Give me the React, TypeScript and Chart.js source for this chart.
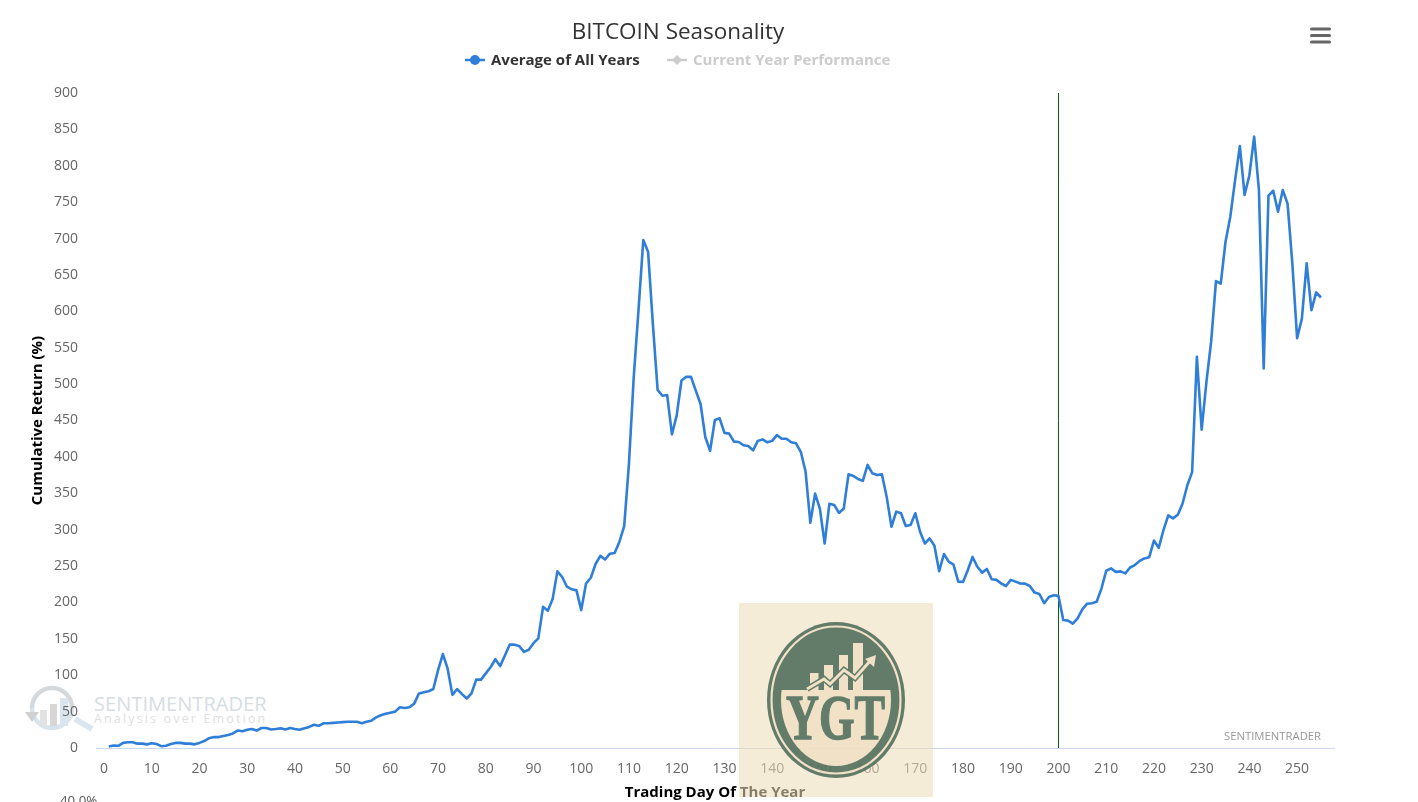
import { useEffect, useRef } from "react";
import { Chart, registerables } from "chart.js";

Chart.register(...registerables);

// cumulative return, trading day 1 to 255
const avgReturn = [
  2, 3.5, 3, 7, 8, 8, 6, 6, 5, 6.5,
  5.5, 2.5, 3, 5.5, 7, 7, 6, 6, 5, 7,
  9.5, 13.5, 15, 15, 16.5, 18, 20, 24, 23, 25,
  26, 24, 27.5, 27.5, 25.5, 26, 27, 25.5, 27.5, 26,
  25, 27, 29, 32, 30.5, 34, 34, 34.5, 35, 35.5,
  36, 36, 36, 34, 36, 37.5, 42, 45, 47, 48.5,
  50, 56, 55, 56, 61, 75, 76.5, 78, 81, 107,
  129, 109, 73, 81, 74, 68, 75, 94, 94, 102.5,
  111, 122, 112.5, 127, 142, 142, 140, 132, 135, 144,
  150.6, 194, 188.6, 204.6, 242.7, 235, 221.6, 218, 216.6, 189.5,
  226, 234, 252.8, 264, 259, 267, 267.9, 283.5, 305, 391,
  510, 602, 698, 682, 583, 492, 484, 485, 431, 457,
  505, 510, 510, 491, 472.6, 427, 408.5, 450.6, 453, 433,
  432, 421, 420.4, 416, 415, 409, 422, 424, 420, 422,
  430, 425, 425, 420, 418.6, 407, 380, 309.6, 349.5, 329,
  281, 335.7, 334, 323, 329, 376, 373.8, 369.6, 367, 389,
  377.4, 375, 376, 345, 304, 324.8, 322.5, 305, 306.4, 322.5,
  297, 281, 288, 278, 243, 266.6, 256, 252, 228.6, 228,
  244.6, 262.5, 249, 241, 246, 231.8, 231, 226, 222.6, 231,
  228.6, 226, 225.8, 222.6, 213.5, 211.6, 199, 207.5, 209.8, 209,
  176, 175, 171, 178, 190.6, 198.3, 199, 201, 219, 243.6,
  246.8, 242, 242.7, 240, 248, 251.4, 257, 260.5, 262, 285,
  275, 299.5, 319.6, 315.5, 320.6, 336, 361, 379, 537.6, 437.5,
  503, 559, 641.6, 638, 695.6, 730, 780, 827, 759.8, 787,
  840, 766.6, 521.6, 758.9, 765.7, 737, 766.6, 748, 666, 563,
  590, 666, 601.7, 626, 619,
];
const todayDay = 200;
const todayRange = [0, 900];

const chartTitle = "BITCOIN Seasonality";
const seriesNames = ["Average of All Years", "Current Year Performance"];
const xTitle = "Trading Day Of The Year";
const yTitle = "Cumulative Return (%)";

const BLUE = "#2f7ed8";
const FONT = "'Open Sans', sans-serif";
const GREEN = "#4d6c5a";
const CREAM = "#efdfc4";

const abs = (left: number, top: number): React.CSSProperties => ({
  position: "absolute",
  left,
  top,
  whiteSpace: "nowrap",
});

const SeasonalityChart = () => {
  const canvasRef = useRef<HTMLCanvasElement | null>(null);

  useEffect(() => {
    if (!canvasRef.current) return;
    const chart = new Chart(canvasRef.current, {
      type: "line",
      data: {
        datasets: [
          {
            label: seriesNames[0],
            data: avgReturn.map((v, i) => ({ x: i + 1, y: v })),
            borderColor: BLUE,
            borderWidth: 2.6,
            borderJoinStyle: "round",
            pointRadius: 0,
            tension: 0,
            order: 1,
          },
          {
            label: "today",
            data: todayRange.map((v) => ({ x: todayDay, y: v })),
            borderColor: "#0a5a0e",
            borderWidth: 1,
            pointRadius: 0,
            order: 2,
          },
        ],
      },
      options: {
        animation: false,
        responsive: false,
        layout: { padding: { top: 93, right: 84, left: 0, bottom: 0 } },
        plugins: {
          legend: { display: false },
          title: { display: false },
          tooltip: { enabled: false },
        },
        scales: {
          x: {
            type: "linear",
            min: -1.68,
            max: 257.73,
            afterFit: (s: any) => {
              s.height = 54;
            },
            grid: { display: false, drawTicks: false },
            border: { display: true, color: "#ccd6eb", width: 1 },
            ticks: {
              stepSize: 10,
              includeBounds: false,
              autoSkip: false,
              maxRotation: 0,
              padding: 13,
              color: "#666",
              font: { family: FONT, size: 14 },
              callback: (v: any) => String(v),
            },
            title: {
              display: true,
              text: xTitle,
              color: "#000",
              padding: { top: 0, bottom: 0 },
              font: { family: FONT, size: 15, weight: "bold" },
            },
          },
          y: {
            min: 0,
            max: 900,
            afterFit: (s: any) => {
              s.width = 96;
            },
            grid: { display: false, drawTicks: false },
            border: { display: false },
            ticks: {
              stepSize: 50,
              padding: 18,
              color: "#666",
              font: { family: FONT, size: 14 },
            },
            title: {
              display: true,
              text: yTitle,
              color: "#000",
              padding: { top: 28.5, bottom: 0 },
              font: { family: FONT, size: 15, weight: "bold" },
            },
          },
        },
      },
    } as any);

    return () => {
      chart.destroy();
    };
  }, []);

  return (
    <canvas
      ref={canvasRef}
      width={1418}
      height={802}
      style={{ position: "absolute", left: 0, top: 0, display: "block" }}
    />
  );
};

const Watermark = () => (
  <svg width={280} height={70} style={{ position: "absolute", left: 20, top: 680 }}>
    <path d="M 12 28 A 20 20 0 0 1 52 28" fill="none" stroke="#d6d9dc" strokeWidth={4.5} />
    <path d="M 12 28 A 20 20 0 0 0 52 28" fill="none" stroke="#d8e3ec" strokeWidth={4.5} />
    <path d="M 5 32 L 19 32 L 12 42 Z" fill="#d0d0d0" />
    <rect x={20} y={30} width={7} height={16} fill="#e2e2e2" />
    <rect x={30} y={24} width={7} height={22} fill="#d6d6d6" />
    <rect x={40} y={18} width={8} height={28} fill="#dbe5ee" />
    <line x1={55} y1={39} x2={72} y2={49} stroke="#dbe6ef" strokeWidth={6} />
    <text x={74} y={30.5} fontFamily={FONT} fontSize={20.1} fill="#d6dde4">
      SENTIMENTRADER
    </text>
    <text x={74} y={43} fontFamily={FONT} fontSize={12.5} letterSpacing={2.15} fill="#e0e0e0">
      Analysis over Emotion
    </text>
  </svg>
);

const Logo = () => (
  <svg width={194} height={194} style={{ position: "absolute", left: 739, top: 603 }}>
    <defs>
      <clipPath id="lower">
        <rect x={0} y={87} width={194} height={107} />
      </clipPath>
    </defs>
    <rect x={0} y={0} width={194} height={194} fill="rgb(237,222,186)" fillOpacity={0.57} />
    <g opacity={0.88}>
      <ellipse cx={97} cy={97} rx={69} ry={78} fill={GREEN} />
      <ellipse cx={97} cy={97} rx={64.5} ry={73.5} fill="none" stroke={CREAM} strokeWidth={2.2} />
      <ellipse cx={97} cy={97} rx={55} ry={66} fill={CREAM} clipPath="url(#lower)" />
      <rect x={71} y={70} width={8.5} height={18} fill={CREAM} />
      <rect x={85} y={62} width={9} height={26} fill={CREAM} />
      <rect x={100} y={52} width={9} height={36} fill={CREAM} />
      <rect x={114} y={40} width={10} height={48} fill={CREAM} />
      <path d="M 68 86 L 85 76 L 91 81 L 105 67 L 116 75 L 132 57" fill="none" stroke={GREEN} strokeWidth={6} />
      <path d="M 68 86 L 85 76 L 91 81 L 105 67 L 116 75 L 132 57" fill="none" stroke={CREAM} strokeWidth={3} />
      <path d="M 126 56 L 137 52 L 135 64 Z" fill={CREAM} />
      <text
        x={47}
        y={136}
        textLength={99}
        lengthAdjust="spacingAndGlyphs"
        fontFamily="'Liberation Serif', serif"
        fontWeight="bold"
        fontSize={63}
        fill={GREEN}
        stroke={GREEN}
        strokeWidth={1.4}
      >
        YGT
      </text>
    </g>
  </svg>
);

const App = () => (
  <div
    style={{
      position: "absolute",
      left: 0,
      top: 0,
      width: 1418,
      height: 802,
      overflow: "hidden",
      background: "#fff",
      fontFamily: FONT,
    }}
  >
    <Watermark />
    <SeasonalityChart />

    <div style={{ ...abs(478, 16), width: 400, textAlign: "center", fontSize: 22.5, color: "#333", lineHeight: "30px" }}>
      {chartTitle}
    </div>

    <svg width={24} height={14} style={{ position: "absolute", left: 464, top: 53 }}>
      <line x1={1} y1={7} x2={21} y2={7} stroke={BLUE} strokeWidth={2.5} />
      <circle cx={11} cy={7} r={5} fill={BLUE} />
    </svg>
    <div style={{ ...abs(491, 49), fontSize: 15, fontWeight: 700, color: "#333", lineHeight: "21px" }}>
      {seriesNames[0]}
    </div>
    <svg width={24} height={14} style={{ position: "absolute", left: 666, top: 53 }}>
      <line x1={1} y1={7} x2={21} y2={7} stroke="#ccc" strokeWidth={2.5} />
      <path d="M 11 2 L 16 7 L 11 12 L 6 7 Z" fill="#ccc" />
    </svg>
    <div style={{ ...abs(693, 49), fontSize: 15, fontWeight: 700, color: "#ccc", lineHeight: "21px" }}>
      {seriesNames[1]}
    </div>

    <svg width={24} height={20} style={{ position: "absolute", left: 1309, top: 26 }}>
      <rect x={1} y={1.5} width={21} height={3} rx={1.5} fill="#666" />
      <rect x={1} y={8} width={21} height={3} rx={1.5} fill="#666" />
      <rect x={1} y={14.5} width={21} height={3} rx={1.5} fill="#666" />
    </svg>

    <div style={{ ...abs(1224, 728), fontSize: 11.3, color: "#999", lineHeight: "15px" }}>SENTIMENTRADER</div>
    <div style={{ ...abs(60, 791), fontSize: 13.3, color: "#555", lineHeight: "18px" }}>40.0%</div>

    <Logo />
  </div>
);

export default App;
